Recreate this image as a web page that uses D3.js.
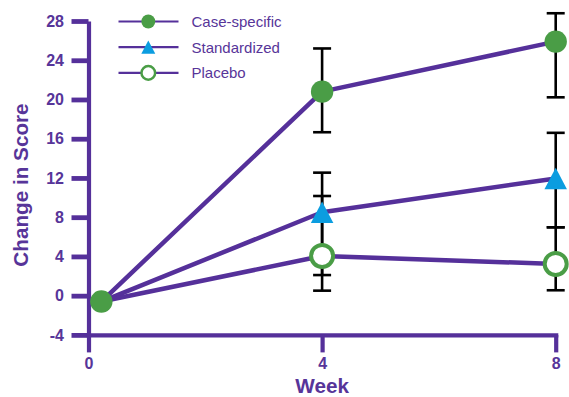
<!DOCTYPE html>
<html>
<head>
<meta charset="utf-8">
<script src="https://cdn.jsdelivr.net/npm/d3@7/dist/d3.min.js"></script>
<style>
  html, body { margin: 0; padding: 0; background: #fff; }
  svg { display: block; }
</style>
</head>
<body>
<svg id="chart" width="569" height="397"></svg>
<script>
// Plotted week positions (baseline point sits just right of the axis)
const weeks = [0.22, 4, 8];
const weekTicks = [0, 4, 8];
const scoreTicks = [-4, 0, 4, 8, 12, 16, 20, 24, 28];

const seriesNames = ["Case-specific", "Standardized", "Placebo"];

// Mean change in score per week
const caseSpecific = [-0.6, 20.8, 25.9];
const standardized = [-0.6, 8.5, 11.95];
const placebo      = [-0.6, 4.05, 3.23];

// Error bar limits (null = no bar)
const caseLow  = [null, 16.66, 20.22];
const caseHigh = [null, 25.2, 28.79];
const stdLow   = [null, 2.1, 6.97];
const stdHigh  = [null, 12.54, 16.6];
const plaLow   = [null, 0.51, 0.55];
const plaHigh  = [null, 10.16, 6.97];

const purple = "#55309a";
const textPurple = "#573599";
const green = "#4a9d46";
const blue = "#0b9de0";
const font = "'Liberation Sans', Arial, sans-serif";

const svg = d3.select("#chart");

const x = d3.scaleLinear().domain([0, 8]).range([88.5, 555.7]);
const y = d3.scaleLinear().domain([-4, 28]).range([334.9, 21]);

// Y axis
const yAxis = svg.append("g")
  .attr("transform", `translate(${x(0)},0)`)
  .call(d3.axisLeft(y).tickValues(scoreTicks).tickFormat(d => String(d))
    .tickSize(17).tickSizeOuter(0).tickPadding(7.5));
yAxis.select(".domain").attr("stroke", purple).attr("stroke-width", 4.2);
yAxis.selectAll(".tick line").attr("stroke", purple).attr("stroke-width", 4.8);
yAxis.selectAll(".tick text")
  .attr("fill", textPurple).attr("font-family", font)
  .attr("font-size", 16).attr("font-weight", "bold");

// X axis
const xAxis = svg.append("g")
  .attr("transform", `translate(0,${y(-4)})`)
  .call(d3.axisBottom(x).tickValues(weekTicks).tickFormat(d => String(d))
    .tickSize(17.5).tickSizeOuter(0).tickPadding(5));
xAxis.select(".domain").attr("stroke", purple).attr("stroke-width", 4.2)
  .attr("stroke-linecap", "square");
xAxis.selectAll(".tick line").attr("stroke", purple).attr("stroke-width", 4.2);
xAxis.selectAll(".tick text")
  .attr("fill", textPurple).attr("font-family", font)
  .attr("font-size", 16).attr("font-weight", "bold");

// Axis titles
svg.append("text")
  .attr("transform", `translate(28,${(103.3 + 266.7) / 2}) rotate(-90)`)
  .attr("text-anchor", "middle")
  .attr("fill", textPurple).attr("font-family", font)
  .attr("font-size", 20.7).attr("font-weight", "bold")
  .text("Change in Score");

svg.append("text")
  .attr("x", x(4)).attr("y", 393.3)
  .attr("text-anchor", "middle")
  .attr("fill", textPurple).attr("font-family", font)
  .attr("font-size", 20.7).attr("font-weight", "bold")
  .text("Week");

const series = [
  { name: seriesNames[0], values: caseSpecific, lo: caseLow, hi: caseHigh, marker: "filled" },
  { name: seriesNames[1], values: standardized, lo: stdLow, hi: stdHigh, marker: "triangle" },
  { name: seriesNames[2], values: placebo, lo: plaLow, hi: plaHigh, marker: "open" }
];

// Connecting lines
const line = d3.line().x((d, i) => x(weeks[i])).y(d => y(d));
svg.append("g").selectAll("path")
  .data(series).join("path")
  .attr("d", s => line(s.values))
  .attr("fill", "none")
  .attr("stroke", purple)
  .attr("stroke-width", 4.5)
  .attr("stroke-linejoin", "round");

// Error bars
const errData = [];
series.forEach(s => {
  s.values.forEach((v, i) => {
    if (s.lo[i] != null) errData.push({ wk: weeks[i], lo: s.lo[i], hi: s.hi[i] });
  });
});
const eg = svg.append("g").attr("stroke", "#000").attr("stroke-width", 2.6);
const capHalf = 9;
errData.forEach(e => {
  eg.append("line").attr("x1", x(e.wk)).attr("x2", x(e.wk)).attr("y1", y(e.lo)).attr("y2", y(e.hi));
  eg.append("line").attr("x1", x(e.wk) - capHalf).attr("x2", x(e.wk) + capHalf).attr("y1", y(e.lo)).attr("y2", y(e.lo));
  eg.append("line").attr("x1", x(e.wk) - capHalf).attr("x2", x(e.wk) + capHalf).attr("y1", y(e.hi)).attr("y2", y(e.hi));
});

// Marker drawing
function triPath(w, h) {
  return `M0,${-h / 2}L${w / 2},${h / 2}L${-w / 2},${h / 2}Z`;
}
function drawMarker(g, kind, cx, cy, scale) {
  if (kind === "filled") {
    g.append("circle").attr("cx", cx).attr("cy", cy).attr("r", 11.2 * scale).attr("fill", green);
  } else if (kind === "open") {
    g.append("circle").attr("cx", cx).attr("cy", cy).attr("r", 11 * scale)
      .attr("fill", "#fff").attr("stroke", green).attr("stroke-width", 4 * scale);
  } else {
    g.append("path").attr("transform", `translate(${cx},${cy})`)
      .attr("d", triPath(22.5 * scale, 21.5 * scale)).attr("fill", blue);
  }
}

// Markers; the shared baseline point is shown once, as the case-specific marker
const mg = svg.append("g");
[series[2], series[1], series[0]].forEach(s => {
  s.values.forEach((v, i) => {
    if (i === 0 && s !== series[0]) return;
    drawMarker(mg, s.marker, x(weeks[i]), y(v), 1);
  });
});

// Legend
const legendY = [21.5, 47.2, 72.9];
const lg = svg.append("g");
series.forEach((s, i) => {
  const ly = legendY[i];
  lg.append("line").attr("x1", 118.5).attr("x2", 178.5).attr("y1", ly).attr("y2", ly)
    .attr("stroke", purple).attr("stroke-width", 2.2);
  drawMarker(lg, s.marker, 148.3, ly, 0.62);
  lg.append("text").attr("x", 191.5).attr("y", ly + 5.3)
    .attr("fill", textPurple).attr("font-family", font).attr("font-size", 15)
    .text(s.name);
});
</script>
</body>
</html>
